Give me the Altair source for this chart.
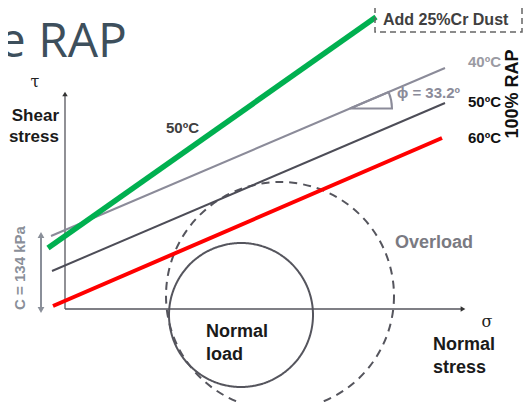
import altair as alt
import pandas as pd

# ---- diagram values (σ = normal stress, τ = shear stress, in drawing units) ----
line_names = ["Add 25%Cr Dust", "40ºC", "50ºC", "60ºC"]
line_sigma_start = [-17, -14, -13, -12]
line_sigma_end = [311, 380, 380, 377]
line_tau_start = [61, 73, 38, 3]
line_tau_end = [292, 241, 206, 171]
line_colors = ["#00b050", "#8b8b99", "#4d4d57", "#ff0000"]
line_widths = [5.5, 2, 2, 4]

circle_names = ["Normal load", "Overload"]
circle_sigma = [176, 215]
circle_tau = [-6, 13]
circle_radius = [72, 114]
circle_dash = [[1, 0], [8, 6]]

axis_sigma_max = 398
axis_tau_max = 215

cohesion_label = "C = 134 kPa"
cohesion_tau = [-1, 74]
cohesion_sigma = -24

phi_label = "ϕ = 33.2º"
phi_vertex = [285, 200.5]
phi_theta = [1.168, 1.5708]

XS = alt.Scale(domain=[-57, 459], nice=False, zero=False)
YS = alt.Scale(domain=[-93, 301], nice=False, zero=False)


def X(f="s"):
    return alt.X(f"{f}:Q", scale=XS, axis=None)


def Y(f="t"):
    return alt.Y(f"{f}:Q", scale=YS, axis=None)


layers = []

# Mohr circles
for name, s, t, r, d in zip(circle_names, circle_sigma, circle_tau, circle_radius, circle_dash):
    df = pd.DataFrame({"s": [s], "t": [t], "size": [(2 * r) ** 2]})
    layers.append(
        alt.Chart(df).mark_point(shape="circle", filled=False, stroke="#55555d",
                                 strokeWidth=2, opacity=1, strokeDash=d)
        .encode(x=X(), y=Y(), size=alt.Size("size:Q", scale=None, legend=None))
    )

# axes
layers.append(
    alt.Chart(pd.DataFrame({"s": [0, 0], "t": [0, 0], "s2": [0, axis_sigma_max], "t2": [axis_tau_max, 0]}))
    .mark_rule(color="#55555d", strokeWidth=1.3)
    .encode(x=X(), y=Y(), x2="s2:Q", y2="t2:Q")
)
layers.append(
    alt.Chart(pd.DataFrame({"s": [0], "t": [axis_tau_max]}))
    .mark_point(shape="triangle-up", filled=True, color="#333", size=30, opacity=1)
    .encode(x=X(), y=Y())
)
layers.append(
    alt.Chart(pd.DataFrame({"s": [axis_sigma_max], "t": [0]}))
    .mark_point(shape="triangle-right", filled=True, color="#333", size=30, opacity=1)
    .encode(x=X(), y=Y())
)

# cohesion double arrow
layers.append(
    alt.Chart(pd.DataFrame({"s": [cohesion_sigma], "t": [cohesion_tau[0]], "t2": [cohesion_tau[1]]}))
    .mark_rule(color="#8a8f99", strokeWidth=2)
    .encode(x=X(), y=Y(), y2="t2:Q")
)
layers.append(
    alt.Chart(pd.DataFrame({"s": [cohesion_sigma], "t": [cohesion_tau[1]]}))
    .mark_point(shape="triangle-up", filled=True, color="#8a8f99", size=45, opacity=1)
    .encode(x=X(), y=Y())
)
layers.append(
    alt.Chart(pd.DataFrame({"s": [cohesion_sigma], "t": [cohesion_tau[0]]}))
    .mark_point(shape="triangle-down", filled=True, color="#8a8f99", size=45, opacity=1)
    .encode(x=X(), y=Y())
)

# failure envelopes (draw green last)
order = [1, 2, 3, 0]
for i in order:
    df = pd.DataFrame({"s": [line_sigma_start[i], line_sigma_end[i]],
                       "t": [line_tau_start[i], line_tau_end[i]]})
    layers.append(
        alt.Chart(df).mark_line(color=line_colors[i], strokeWidth=line_widths[i], strokeCap="butt")
        .encode(x=X(), y=Y())
    )

# friction angle marker
layers.append(
    alt.Chart(pd.DataFrame({"s": [phi_vertex[0]], "t": [phi_vertex[1]],
                            "th": [phi_theta[0]], "th2": [phi_theta[1]], "r": [42]}))
    .mark_arc(fillOpacity=0, stroke="#8b8b99", strokeWidth=2)
    .encode(x=X(), y=Y(), theta=alt.Theta("th:Q", scale=None),
            theta2="th2:Q", radius=alt.Radius("r:Q", scale=None))
)

# dashed box
layers.append(
    alt.Chart(pd.DataFrame({"s": [310], "s2": [457], "t": [277], "t2": [304]}))
    .mark_rect(fillOpacity=0, stroke="#666", strokeWidth=1.5, strokeDash=[6, 4])
    .encode(x=X(), x2="s2:Q", y=Y(), y2="t2:Q")
)


def text_layer(texts, ss, ts, color, size, weight="bold", align="left",
               baseline="middle", font="Liberation Sans", angle=0):
    df = pd.DataFrame({"s": ss, "t": ts, "label": texts})
    kw = dict(color=color, fontSize=size, fontWeight=weight, align=align,
              baseline=baseline, font=font)
    if angle:
        kw["angle"] = angle
    return alt.Chart(df).mark_text(**kw).encode(x=X(), y=Y(), text="label:N")


layers += [
    text_layer(["e RAP"], [62], [252], "#3d4f5c", 48, weight="normal", align="right",
               baseline="alphabetic", font="Open Sans"),
    text_layer(["τ"], [-30], [227], "#222", 16, weight="normal", align="center",
               font="DejaVu Serif"),
    text_layer(["σ"], [422], [-13], "#222", 16, weight="normal", align="center",
               font="DejaVu Serif"),
    text_layer(["Shear", "stress"], [-6, -6], [193, 172], "#1a1a1a", 17, align="right"),
    text_layer(["50ºC"], [101], [181], "#404040", 15),
    text_layer(["40ºC"], [403], [247], "#9a9aa2", 15),
    text_layer(["50ºC", "60ºC"], [403, 403], [207, 171], "#111", 15),
    text_layer([phi_label], [332], [216], "#8b8b99", 15),
    text_layer(["Add 25%Cr Dust"], [318], [289], "#404040", 16),
    text_layer(["100% RAP"], [448], [215], "#111", 18, align="center", angle=270),
    text_layer([cohesion_label], [-45], [41], "#8a8f99", 15, align="center", angle=270),
    text_layer(["Overload"], [330], [66], "#7a7a82", 18),
    text_layer(["Normal", "load"], [141, 141], [-23, -46], "#1a1a1a", 18),
    text_layer(["Normal", "stress"], [368, 368], [-36, -59], "#1a1a1a", 18),
]

chart = (
    alt.layer(*layers)
    .properties(width=516, height=394, padding=0, autosize=alt.AutoSizeParams(type="none"))
    .configure_view(stroke=None)
)

chart.save("out.html", embed_options={"renderer": "svg", "actions": False})
